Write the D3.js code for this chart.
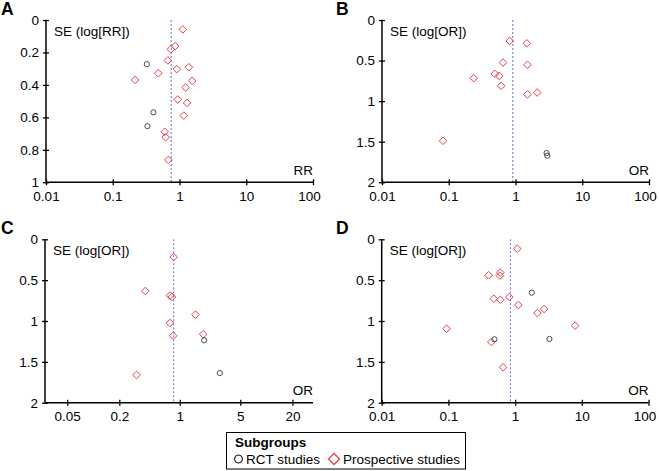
<!DOCTYPE html>
<html><head><meta charset="utf-8">
<script src="https://cdn.jsdelivr.net/npm/d3@7"></script>
<style>
html,body{margin:0;padding:0;background:#fff;}
svg{display:block;font-family:"Liberation Sans",Arial,sans-serif;}
</style></head>
<body>
<svg id="chart" width="659" height="471"></svg>
<script>
// ---------- DATA ----------
// Panel A (RR)
const aRctEffect = [0.324, 0.407, 0.331];
const aRctSE     = [0.272, 0.569, 0.654];
const aProEffect = [1.12, 0.86, 0.74, 0.67, 0.91, 1.38, 0.48, 0.216, 1.55, 1.23, 0.94, 1.30, 1.16, 0.60, 0.62, 0.68];
const aProSE     = [0.058, 0.161, 0.181, 0.249, 0.303, 0.291, 0.328, 0.369, 0.375, 0.416, 0.49, 0.511, 0.589, 0.689, 0.722, 0.862];
const aPooled = 0.75;
// Panel B (OR)
const bRctEffect = [2.92, 2.99];
const bRctSE     = [1.639, 1.672];
const bProEffect = [0.82, 1.48, 0.65, 1.51, 0.237, 0.49, 0.57, 0.61, 1.51, 2.11, 0.082];
const bProSE     = [0.258, 0.287, 0.525, 0.553, 0.717, 0.664, 0.689, 0.811, 0.918, 0.894, 1.488];
const bPooled = 0.91;
// Panel C (OR)
const cRctEffect = [1.91, 2.90];
const cRctSE     = [1.236, 1.637];
const cProEffect = [0.85, 0.40, 0.77, 0.81, 1.52, 0.77, 0.84, 1.86, 0.316];
const cProSE     = [0.217, 0.633, 0.690, 0.706, 0.922, 1.024, 1.18, 1.163, 1.661];
const cPooled = 0.85;
// Panel D (OR)
const dRctEffect = [1.78, 0.49, 3.27];
const dRctSE     = [0.653, 1.224, 1.22];
const dProEffect = [1.08, 0.40, 0.60, 0.59, 0.48, 0.60, 0.82, 1.12, 2.16, 2.72, 7.94, 0.094, 0.44, 0.66];
const dProSE     = [0.115, 0.44, 0.408, 0.445, 0.727, 0.739, 0.706, 0.804, 0.902, 0.853, 1.057, 1.094, 1.257, 1.567];
const dPooled = 0.85;

const xTicksWide = [0.01, 0.1, 1, 10, 100];
const xTickLabelsWide = ["0.01", "0.1", "1", "10", "100"];
const xTicksC = [0.05, 0.2, 1, 5, 20];
const xTickLabelsC = ["0.05", "0.2", "1", "5", "20"];
const yTicksA = [0, 0.2, 0.4, 0.6, 0.8, 1];
const yTickLabelsA = ["0", "0.2", "0.4", "0.6", "0.8", "1"];
const yTicksOR = [0, 0.5, 1, 1.5, 2];
const yTickLabelsOR = ["0", "0.5", "1", "1.5", "2"];

const panelLetters = ["A", "B", "C", "D"];
const yTitles = ["SE (log[RR])", "SE (log[OR])", "SE (log[OR])", "SE (log[OR])"];
const xTitles = ["RR", "OR", "OR", "OR"];
const legendTitle = "Subgroups";
const legendLabels = ["RCT studies", "Prospective studies"];

// ---------- DRAW ----------
const svg = d3.select("#chart");
const RED = "#e0414a", GREY = "#4a4a4a", BLUE = "#6b6bd6";
const FS = 13.5;

function diamondPath(x, y, r) {
  return `M${x},${y - r}L${x + r},${y}L${x},${y + r}L${x - r},${y}Z`;
}

function drawPanel(p) {
  const g = svg.append("g");
  const x = d3.scaleLog().domain(p.xDomain).range([p.x0, p.x1]);
  const y = d3.scaleLinear().domain(p.yDomain).range([p.y0, p.y1]);

  g.append("text").attr("x", p.letterX).attr("y", p.letterY)
    .attr("font-size", 17.5).attr("font-weight", "bold").text(p.letter);

  g.append("line")
    .attr("x1", x(p.pooled)).attr("x2", x(p.pooled))
    .attr("y1", y(p.yDomain[0])).attr("y2", y(p.yDomain[1]))
    .attr("stroke", BLUE).attr("stroke-width", 1).attr("stroke-dasharray", "2,2");

  const yAxis = d3.axisLeft(y).tickValues(p.yTicks)
    .tickFormat((d, i) => p.yTickLabels[i]).tickSize(3).tickPadding(4);
  const ya = g.append("g").attr("transform", `translate(${p.x0},0)`).call(yAxis);
  const xAxis = d3.axisBottom(x).tickValues(p.xTicks)
    .tickFormat((d, i) => p.xTickLabels[i]).tickSize(3).tickPadding(6);
  const xa = g.append("g").attr("transform", `translate(0,${p.y1})`).call(xAxis);
  xa.selectAll(".tick line").attr("y1", -3);
  ya.selectAll(".tick line").attr("x1", 3);
  [ya, xa].forEach(a => {
    a.select(".domain").attr("stroke", "#000").attr("stroke-width", 1.5);
    a.selectAll(".tick line").attr("stroke", "#000").attr("stroke-width", 1.3);
    a.selectAll(".tick text").attr("font-size", FS).attr("fill", "#000")
      .attr("font-family", "Liberation Sans, Arial, sans-serif");
  });
  // last x label sits slightly left of its tick, as in the original
  xa.selectAll(".tick text").filter((d, i, n) => i === n.length - 1).attr("x", p.lastShift);
  ya.select(".domain").attr("d", `M0,${p.y0}V${p.y1}`);
  xa.select(".domain").attr("d", `M${p.x0},0H${p.x1}`);

  g.append("text").attr("x", p.x0 + 8).attr("y", p.y0 + 15.5)
    .attr("font-size", FS).text(p.yTitle);
  g.append("text").attr("x", p.x1).attr("y", p.y1 - 7.5)
    .attr("text-anchor", "end").attr("font-size", FS).text(p.xTitle);

  const pro = p.proEffect.map((e, i) => ({ e, s: p.proSE[i] }));
  const rct = p.rctEffect.map((e, i) => ({ e, s: p.rctSE[i] }));
  g.selectAll(".pro").data(pro).enter().append("path")
    .attr("d", d => diamondPath(x(d.e), y(d.s), 3.8))
    .attr("fill", "none").attr("stroke", RED).attr("stroke-width", 1);
  g.selectAll(".rct").data(rct).enter().append("circle")
    .attr("cx", d => x(d.e)).attr("cy", d => y(d.s)).attr("r", 2.6)
    .attr("fill", "none").attr("stroke", GREY).attr("stroke-width", 1);
}

drawPanel({ letter: panelLetters[0], letterX: 1, letterY: 15, lastShift: -4,
  xDomain: [0.01, 100], yDomain: [0, 1], x0: 46, x1: 313, y0: 20, y1: 182.3,
  xTicks: xTicksWide, xTickLabels: xTickLabelsWide, yTicks: yTicksA, yTickLabels: yTickLabelsA,
  yTitle: yTitles[0], xTitle: xTitles[0], pooled: aPooled,
  proEffect: aProEffect, proSE: aProSE, rctEffect: aRctEffect, rctSE: aRctSE });

drawPanel({ letter: panelLetters[1], letterX: 336, letterY: 15, lastShift: -4,
  xDomain: [0.01, 100], yDomain: [0, 2], x0: 382, x1: 649, y0: 20, y1: 182.3,
  xTicks: xTicksWide, xTickLabels: xTickLabelsWide, yTicks: yTicksOR, yTickLabels: yTickLabelsOR,
  yTitle: yTitles[1], xTitle: xTitles[1], pooled: bPooled,
  proEffect: bProEffect, proSE: bProSE, rctEffect: bRctEffect, rctSE: bRctSE });

drawPanel({ letter: panelLetters[2], letterX: 1, letterY: 234, lastShift: 0,
  xDomain: [0.0277, 34.6], yDomain: [0, 2], x0: 45, x1: 313, y0: 239.3, y1: 402.7,
  xTicks: xTicksC, xTickLabels: xTickLabelsC, yTicks: yTicksOR, yTickLabels: yTickLabelsOR,
  yTitle: yTitles[2], xTitle: xTitles[2], pooled: cPooled,
  proEffect: cProEffect, proSE: cProSE, rctEffect: cRctEffect, rctSE: cRctSE });

drawPanel({ letter: panelLetters[3], letterX: 336, letterY: 234, lastShift: -4,
  xDomain: [0.01, 100], yDomain: [0, 2], x0: 381.7, x1: 648.5, y0: 239.3, y1: 402.7,
  xTicks: xTicksWide, xTickLabels: xTickLabelsWide, yTicks: yTicksOR, yTickLabels: yTickLabelsOR,
  yTitle: yTitles[3], xTitle: xTitles[3], pooled: dPooled,
  proEffect: dProEffect, proSE: dProSE, rctEffect: dRctEffect, rctSE: dRctSE });

const lg = svg.append("g");
lg.append("rect").attr("x", 226.5).attr("y", 432.5).attr("width", 239).attr("height", 36.5)
  .attr("fill", "#fff").attr("stroke", "#000").attr("stroke-width", 1);
lg.append("text").attr("x", 235).attr("y", 447).attr("font-size", FS).attr("font-weight", "bold").text(legendTitle);
lg.append("circle").attr("cx", 238.5).attr("cy", 459).attr("r", 4)
  .attr("fill", "none").attr("stroke", "#000").attr("stroke-width", 1);
lg.append("text").attr("x", 246).attr("y", 463.5).attr("font-size", FS).text(legendLabels[0]);
lg.append("path").attr("d", diamondPath(334, 459, 5.5))
  .attr("fill", "none").attr("stroke", RED).attr("stroke-width", 1.3);
lg.append("text").attr("x", 343).attr("y", 463.5).attr("font-size", FS).text(legendLabels[1]);
</script>
</body></html>
